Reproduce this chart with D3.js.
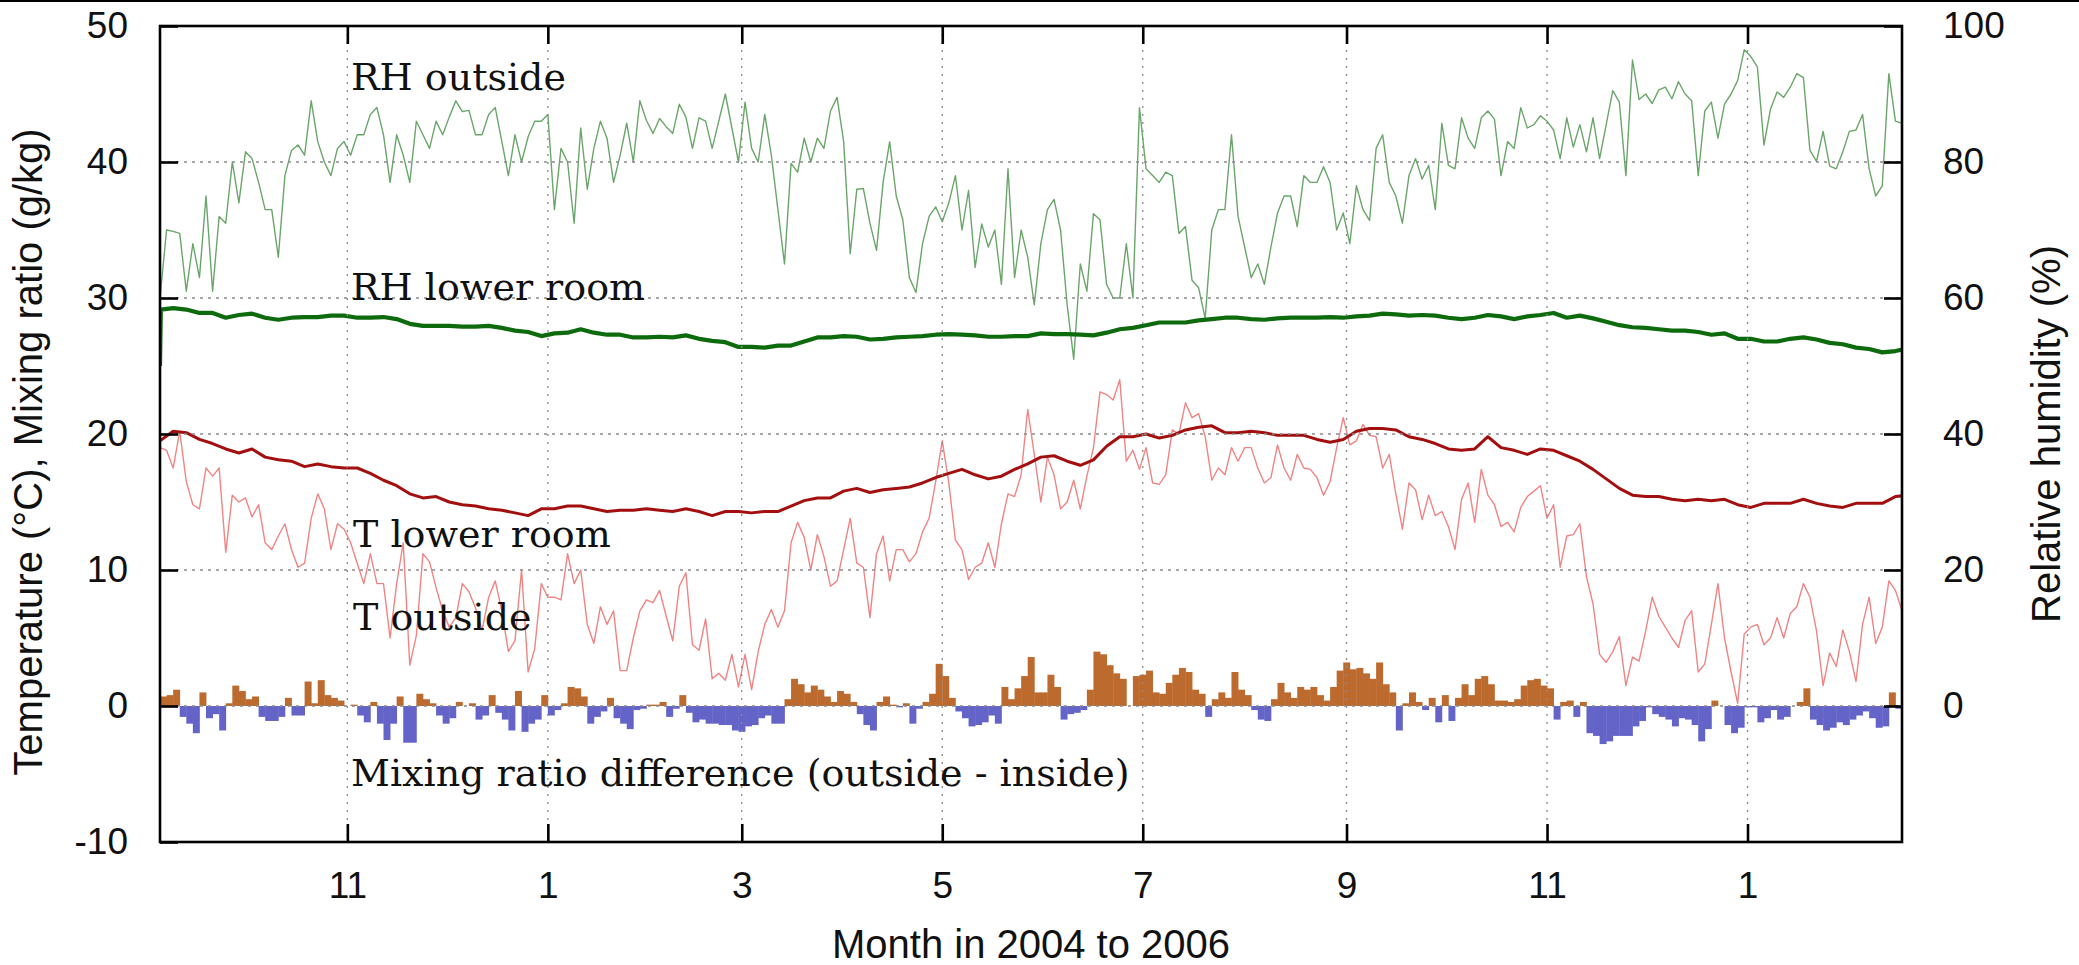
<!DOCTYPE html>
<html><head><meta charset="utf-8">
<script src="https://cdn.jsdelivr.net/npm/d3@7/dist/d3.min.js"></script>
<style>body{margin:0;background:#fff} svg{display:block}</style>
</head><body>
<svg id="chart" width="2079" height="965"></svg>
<script>
// ---------- data ----------
const startDate = "2004-09-05";
const endDate = "2006-02-17";
const outsideStepDays = 2;   // RH outside, T outside sampled every 2 days
const roomStepDays = 4;      // lower-room series sampled every 4 days
const barStepDays = 2;       // mixing ratio difference, 2-day bins

const rhOutside = [
60,70,69.8,69.5,61,68,63,75,61,72,
71,80,74,81.5,80.5,77,73,73,66,78,
81.7,82.5,81,89,83,80,78,82,83,81,
84,84,87,88,84,77,84,81,77,86,
84,82,86,84,86.6,89,87.4,87.6,84,84,
87,88,83,78,84,80,83.7,86,86,87,
73,82,80,71,85,76,82,86,83.5,
77,81,85.7,80,89,86.1,84.2,86.4,85.2,84.2,88.5,86.6,82,86.5,86,82,86,90,85,80,88.8,82,80,87,81,73,65,79.8,78.5,83.5,80,83.5,82,87.5,89.5,83,66.5,76,76.1,71,67,77,83,75,71.5,63,60.8,68,72,73.4,71.2,74,78,70,75.8,64.5,70.9,67.5,70,62,79,63,70,66,59,
68,73,
74.5,70,59,51,65,61,72.4,71.5,62,60,60,68,60,88,79,78,77,78.5,78,69.5,70.5,62.6,61.5,57,70,73,73,84,72,67.5,63,65,62,67.5,72.5,75,75,70.5,78,77,77,79.3,77,70,72.5,68,76.5,73,71.4,82,84,77,75,71,78,80.5,77.5,79.5,73,85.7,79.5,79,86.5,83.5,82,86.5,
87.5,
86.3,78,83,82,88,85,85.5,86.8,86,84.7,80.5,86.5,82.2,85.5,81.5,86.5,80.5,85.5,90.5,88.8,78,95,89.2,90,88.6,90.6,91,89.3,91.8,90,89,78,87.5,88.8,83.5,88.5,90,92,96.5,95.5,94,82.5,87.8,90.3,89.5,91,93,92.4,81.7,80.1,84.5,79.4,79,81.5,84.5,84.7,87,79,75,76.5,93,86,85.7
];

const tOutside = [
19.0,18.8,17.5,20.2,16.5,14.8,14.5,17.5,16.9,17.5,
11.3,15.5,15.0,15.3,13.9,14.8,12.0,11.5,12.5,13.4,
11.5,10.2,10.5,13.8,15.6,14.5,11.5,13.4,13.0,12.0,
10.5,9.0,11.2,9.0,9.0,5.0,9.0,12.0,3.0,5.2,
11.2,10.6,8.7,7.0,5.8,6.5,9.0,8.4,7.2,5.6,
8.0,9.2,7.0,4.0,4.8,10.0,2.5,4.2,9.0,8.0,
8.0,7.8,11.2,9.0,10.0,6.0,4.6,7.3,6.0,
7.0,2.6,2.6,5.0,7.0,7.8,7.6,8.5,6.6,4.8,8.8,9.8,4.5,4.1,6.4,2.0,2.4,1.9,3.8,1.4,3.8,1.2,4.0,6.0,7.1,5.8,7.0,12.0,13.5,12.4,10.0,12.6,11.0,8.8,9.2,11.5,13.8,10.5,10.2,6.5,11.2,12.5,9.2,11.5,11.5,10.6,11.2,12.8,13.8,16.5,19.5,16.4,12.2,11.5,9.3,10.2,10.5,12.0,10.2,13.4,15.6,15.4,17.0,21.8,18.5,
15.0,18.3,
17.0,14.5,15.0,16.6,14.5,16.9,19.0,23.1,22.9,22.5,24.0,18.0,18.8,17.4,19.0,16.4,16.3,17.0,20.3,20.0,22.3,21.2,21.5,19.8,16.6,17.5,17.0,19.0,18.0,19.0,19.0,17.5,16.4,16.8,19.2,17.5,16.6,18.5,17.5,17.4,16.8,15.5,16.5,19.0,21.2,19.2,19.5,20.7,19.9,19.8,17.5,18.5,15.6,13.0,16.4,15.9,13.7,15.5,14.0,14.3,13.2,11.5,15.2,16.4,13.5,17.4,
15.5,
14.8,13.2,13.5,12.8,14.6,15.4,15.8,16.2,13.8,14.8,10.2,12.5,12.6,13.4,9.5,7.5,3.8,3.2,4.0,5.1,1.5,3.6,3.3,5.5,8.0,6.6,5.8,5.0,4.3,6.3,7.0,2.5,3.1,6.0,9.0,5.0,2.5,0.2,5.3,5.8,6.0,4.5,5.0,6.5,5.0,6.8,7.3,9.0,8.0,5.5,1.5,3.9,2.9,5.6,4.0,1.8,6.0,8.0,4.6,5.8,9.2,8.5,7.0
];

const rhLowerRoomInitial = 50;
const rhLowerRoom = [
58.3,58.5,58.3,57.8,57.8,57.1,57.5,57.7,57.1,56.8,57.1,57.2,57.2,57.4,57.4,57.1,57.1,57.2,56.9,56.2,55.9,55.9,55.9,55.8,55.8,55.9,55.6,55.2,55.0,54.4,54.8,54.9,55.4,54.9,54.6,
54.6,54.2,54.2,54.3,54.2,54.5,54.0,53.7,53.5,52.8,52.8,52.7,53.0,53.0,53.6,54.2,54.2,54.4,54.3,53.9,54.0,54.2,54.3,54.4,54.6,54.7,54.6,54.5,54.3,54.3,54.4,54.4,54.8,
54.7,54.7,54.6,54.5,54.9,55.4,55.6,56.0,56.4,56.4,56.4,56.7,56.9,57.1,57.1,56.9,56.8,57.0,57.1,57.1,57.1,57.2,57.1,57.3,57.4,57.7,57.6,57.4,57.5,57.4,57.1,56.9,57.1,
57.5,57.3,56.9,57.3,57.5,57.8,57.1,57.4,57.0,56.5,56.0,55.7,55.6,55.4,55.2,55.2,55.0,54.6,54.8,54.0,54.0,53.6,53.6,54.0,54.2,53.9,53.4,53.2,52.7,52.5,52.0,52.2,52.6
];

const tLowerRoom = [
19.5,20.2,20.1,19.6,19.3,18.9,18.6,18.9,18.3,18.1,18.0,17.6,17.8,17.6,17.5,17.5,17.1,16.6,16.2,15.6,15.3,15.4,15.0,14.8,14.7,14.5,14.4,14.2,14.0,14.5,14.5,14.7,14.7,14.5,14.3,
14.4,14.4,14.5,14.4,14.3,14.5,14.3,14.0,14.3,14.3,14.2,14.3,14.3,14.7,15.1,15.3,15.3,15.8,16.0,15.7,15.9,16.0,16.1,16.4,16.8,17.1,17.4,17.0,16.7,16.9,17.4,17.8,18.3,
18.4,18.0,17.7,18.1,19.1,19.8,19.8,20.0,19.7,19.9,20.3,20.5,20.6,20.1,20.1,20.2,20.1,19.9,19.9,19.9,19.6,19.4,19.6,20.2,20.4,20.4,20.3,19.8,19.6,19.3,18.9,18.8,18.9,
19.8,19.0,18.8,18.5,18.9,18.8,18.4,18.0,17.4,16.7,16.0,15.5,15.4,15.4,15.2,15.1,15.2,15.1,15.2,14.8,14.6,14.9,14.9,14.9,15.2,14.9,14.7,14.6,14.9,14.9,14.9,15.4,15.5
];

const mixingRatioDiff = [
0.7,0.8,1.2,-0.8,-1.3,-2.0,1.0,-0.9,-0.6,-1.8,0.2,1.5,1.1,0.5,0.7,-0.8,-1.1,-1.1,-0.8,0.6,-0.7,-0.7,1.8,0.2,1.9,0.8,0.6,0.4,0.0,0.1,-0.7,-1.2,0.3,-1.3,-2.5,-1.3,0.7,-2.7,-2.7,0.9,0.5,0.2,-0.7,-1.3,-0.9,0.3,0.0,0.2,-1.0,-0.7,0.8,-0.5,-1.0,-1.8,1.1,-1.9,-1.3,-1.0,0.8,-0.7,-0.3,0.2,1.4,1.3,0.7,-1.3,-0.8,-0.4,
0.6,-0.9,-1.3,-1.7,-0.3,-0.2,0.1,0.1,0.3,-0.8,-0.2,0.8,-0.5,-1.2,-1.0,-1.3,-1.3,-1.4,-1.4,-1.8,-1.9,-1.5,-1.4,-0.9,-0.7,-1.3,-1.3,0.5,2.0,1.6,1.0,1.5,1.2,0.7,0.3,1.1,0.9,0.3,-0.6,-1.4,-1.8,0.3,0.7,0.1,-0.1,0.2,-1.3,-0.2,0.3,0.9,3.1,2.2,0.6,-0.4,-0.9,-1.5,-1.4,-1.2,-0.7,-1.3,1.4,0.5,1.3,2.2,3.6,1.0,
1.0,2.3,
1.4,-1.0,-0.6,-0.5,-0.3,1.2,4.0,3.8,3.0,2.4,2.0,0.0,2.2,2.3,2.6,1.0,0.9,1.7,2.3,2.8,2.5,1.2,0.9,-0.8,0.5,1.0,0.6,2.5,1.2,0.8,-0.3,-1.0,-1.1,0.5,1.7,1.0,0.6,1.4,1.2,1.4,0.8,0.4,1.4,2.6,3.2,2.7,2.8,2.4,2.0,3.2,1.6,1.0,-1.8,0.2,1.0,0.3,-0.3,0.6,-1.2,0.8,-1.1,0.6,1.6,0.8,2.0,
2.2,
1.6,0.4,0.4,0.3,0.5,1.5,1.9,2.0,1.5,1.3,-1.0,0.3,0.4,-0.8,0.3,-2.0,-2.2,-2.8,-2.6,-2.2,-2.2,-2.2,-1.5,-1.1,-0.1,-0.6,-0.8,-1.0,-1.5,-0.9,-1.0,-1.4,-2.6,-1.7,0.4,0.0,-1.4,-2.0,-1.6,-0.1,-0.1,-1.2,-0.9,-0.3,-1.0,-0.8,0.0,0.3,1.3,-1.0,-1.4,-1.8,-1.6,-1.2,-1.4,-1.0,-0.7,-0.4,-0.9,-1.6,-1.5,1.0,-0.2
];

const monthTicks = ["2004-11-01","2005-01-01","2005-03-01","2005-05-01","2005-07-01","2005-09-01","2005-11-01","2006-01-01"];
const monthTickLabels = ["11","1","3","5","7","9","11","1"];
const leftTicks = [-10,0,10,20,30,40,50];
const leftTickLabels = ["-10","0","10","20","30","40","50"];
const rightTicks = [0,20,40,60,80,100];
const rightTickLabels = ["0","20","40","60","80","100"];

const seriesLabels = [
  {text:"RH outside", x:351, y:90},
  {text:"RH lower room", x:351, y:300},
  {text:"T lower room", x:353, y:547},
  {text:"T outside", x:353, y:630},
  {text:"Mixing ratio difference (outside - inside)", x:351, y:786}
];

// ---------- drawing ----------
const W = 2079, H = 965;
const M = {left:160, right:1902, top:26, bottom:842};
const svg = d3.select("#chart");
const parse = d3.utcParse("%Y-%m-%d");
const t0 = parse(startDate), t1 = parse(endDate);

const x = d3.scaleUtc().domain([t0, t1]).range([M.left, M.right]);
const yL = d3.scaleLinear().domain([-10, 50]).range([M.bottom, M.top]);
const yR = d3.scaleLinear().domain([-20, 100]).range([M.bottom, M.top]);
const dayAt = (i, step) => d3.utcDay.offset(t0, i * step);

svg.append("rect").attr("x",0).attr("y",0).attr("width",W).attr("height",2).attr("fill","#000");

svg.append("defs").append("clipPath").attr("id","plotclip")
  .append("rect").attr("x",M.left).attr("y",M.top)
  .attr("width",M.right-M.left).attr("height",M.bottom-M.top);

const plot = svg.append("g").attr("clip-path","url(#plotclip)");

// bars
const barW = x(dayAt(1, barStepDays)) - x(dayAt(0, barStepDays));
plot.append("g").selectAll("rect").data(mixingRatioDiff).join("rect")
  .attr("x", (d,i) => x(dayAt(i, barStepDays)))
  .attr("width", barW + 0.4)
  .attr("y", d => d >= 0 ? yL(d) : yL(0))
  .attr("height", d => Math.abs(yL(d) - yL(0)))
  .attr("fill", d => d >= 0 ? "#bd6a2e" : "#6464c8");

const lineL = d3.line().x(d => x(d.t)).y(d => yL(d.v));
const lineR = d3.line().x(d => x(d.t)).y(d => yR(d.v));

const rhOutPts = rhOutside.map((v,i) => ({t: dayAt(i, outsideStepDays), v}));
const tOutPts = tOutside.map((v,i) => ({t: dayAt(i, outsideStepDays), v}));
const rhRoomPts = [{t: t0, v: rhLowerRoomInitial}].concat(
  rhLowerRoom.map((v,i) => ({t: i === 0 ? d3.utcHour.offset(t0, 6) : dayAt(i, roomStepDays), v})));
const tRoomPts = tLowerRoom.map((v,i) => ({t: dayAt(i, roomStepDays), v}));

plot.append("path").datum(rhOutPts).attr("d", lineR)
  .attr("fill","none").attr("stroke","#6aa66a").attr("stroke-width",1.4).attr("stroke-linejoin","round");
plot.append("path").datum(rhRoomPts).attr("d", lineR)
  .attr("fill","none").attr("stroke","#0d6b0d").attr("stroke-width",4.2).attr("stroke-linejoin","round");
plot.append("path").datum(tOutPts).attr("d", lineL)
  .attr("fill","none").attr("stroke","#f08484").attr("stroke-width",1.4).attr("stroke-linejoin","round");
plot.append("path").datum(tRoomPts).attr("d", lineL)
  .attr("fill","none").attr("stroke","#a30f0f").attr("stroke-width",3).attr("stroke-linejoin","round");

// grid (front)
const grid = svg.append("g").attr("stroke","#8a8a8a").attr("stroke-width",1.3).attr("stroke-dasharray","3,5");
grid.selectAll("line.h").data(leftTicks.filter(v => v > -10 && v < 50)).join("line")
  .attr("x1", M.left).attr("x2", M.right).attr("y1", d => yL(d)).attr("y2", d => yL(d));
grid.selectAll("line.v").data(monthTicks).join("line").attr("stroke-dasharray","2,6")
  .attr("x1", d => x(parse(d))).attr("x2", d => x(parse(d))).attr("y1", M.top).attr("y2", M.bottom);

// axes
const fontSans = "'Liberation Sans', Arial, Helvetica, sans-serif";
const tickDates = monthTicks.map(parse);
function styleAxis(g){
  g.select(".domain").remove();
  g.selectAll(".tick line").attr("stroke","#000").attr("stroke-width",2.6);
  g.selectAll("text").attr("font-family", fontSans).attr("font-size", 37).attr("fill","#111");
  g.attr("font-family", fontSans);
}
svg.append("g").attr("transform",`translate(0,${M.bottom})`)
  .call(d3.axisBottom(x).tickValues(tickDates).tickFormat((d,i) => monthTickLabels[i]).tickSize(-18).tickPadding(30))
  .call(styleAxis);
svg.append("g").attr("transform",`translate(0,${M.top})`)
  .call(d3.axisTop(x).tickValues(tickDates).tickFormat("").tickSize(-18))
  .call(styleAxis);
svg.append("g").attr("transform",`translate(${M.left},0)`)
  .call(d3.axisLeft(yL).tickValues(leftTicks).tickFormat((d,i) => leftTickLabels[i]).tickSize(-18).tickPadding(32))
  .call(styleAxis);
svg.append("g").attr("transform",`translate(${M.right},0)`)
  .call(d3.axisRight(yR).tickValues(rightTicks).tickFormat((d,i) => rightTickLabels[i]).tickSize(-18).tickPadding(41))
  .call(styleAxis);

// border
svg.append("rect").attr("x",M.left).attr("y",M.top).attr("width",M.right-M.left).attr("height",M.bottom-M.top)
  .attr("fill","none").attr("stroke","#000").attr("stroke-width",2.6);

// series labels
svg.append("g").selectAll("text").data(seriesLabels).join("text")
  .attr("x", d => d.x).attr("y", d => d.y).text(d => d.text)
  .attr("font-family","'DejaVu Serif', serif").attr("font-size",38).attr("fill","#111");

// axis titles
svg.append("text").attr("transform",`translate(42,452) rotate(-90)`)
  .attr("text-anchor","middle").attr("font-family",fontSans).attr("font-size",40).attr("fill","#111")
  .text("Temperature (°C), Mixing ratio (g/kg)");
svg.append("text").attr("transform",`translate(2060,434) rotate(-90)`)
  .attr("text-anchor","middle").attr("font-family",fontSans).attr("font-size",40).attr("fill","#111")
  .text("Relative humidity (%)");
svg.append("text").attr("x",(M.left+M.right)/2).attr("y",958)
  .attr("text-anchor","middle").attr("font-family",fontSans).attr("font-size",40).attr("fill","#111")
  .text("Month in 2004 to 2006");
</script>
</body></html>
